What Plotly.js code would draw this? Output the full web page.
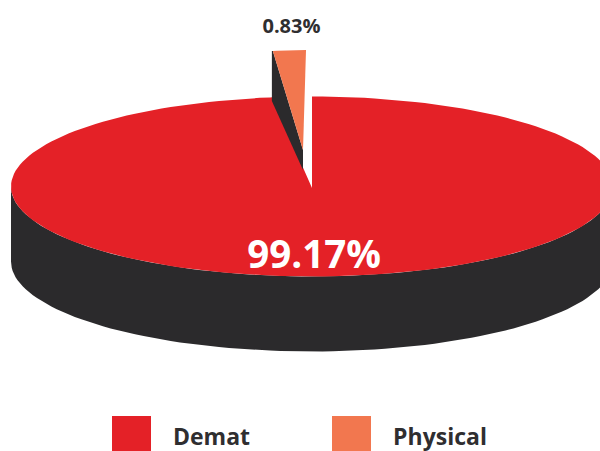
<!DOCTYPE html>
<html><head><meta charset="utf-8">
<script src="https://cdn.plot.ly/plotly-3.0.1.min.js"></script>
<style>html,body{margin:0;padding:0;background:#fff}#c{width:600px;height:451px}</style>
</head><body><div id="c"></div>
<script>
// Data
var categories = ["Demat", "Physical"];
var shares = [99.17, 0.83];
var shareLabels = ["99.17%", "0.83%"];

// Styles and page geometry (the source drawing exaggerates the small slice)
var colors = {Demat:"#E42127", Physical:"#F2774F", side:"#2B2A2C", text:"#2F2E30"};
var cx=312, cy=186.5, rx=301, ry=90, depth=75, apexY=188;
var exaggeration=2.55;

var gapDeg = shares[1]/100*360*exaggeration;
function pt(cX,cY,rX,rY,deg){var a=deg*Math.PI/180;return [cX+rX*Math.sin(a),cY-rY*Math.cos(a)];}
function poly(list,color){
  return {x:list.map(function(p){return p[0]}),y:list.map(function(p){return p[1]}),
    mode:"lines",fill:"toself",fillcolor:color,line:{width:0,color:color},hoverinfo:"skip",showlegend:false,type:"scatter"};
}
// side wall: front half of the rim, extruded downward
var wall=[],d;
for(d=90;d<=270;d+=2){wall.push(pt(cx,cy,rx,ry,d));}
for(d=270;d>=90;d-=2){var q=pt(cx,cy,rx,ry,d);wall.push([q[0],q[1]+depth]);}
// top face: everything except the gap
var topFace=[[cx,apexY]];
for(d=0;d<=360-gapDeg;d+=2){topFace.push(pt(cx,cy,rx,ry,d));}
topFace.push(pt(cx,cy,rx,ry,360-gapDeg));
topFace.push([cx,apexY]);
// exploded slice
var sX=306,sY=150,sRx=250,sRy=100;
var sliceTop=[[303,sY]];
for(d=-gapDeg;d<0;d+=1){sliceTop.push(pt(sX,sY,sRx,sRy,d));}
sliceTop.push(pt(sX,sY,sRx,sRy,0));
var sl=pt(sX,sY,sRx,sRy,-gapDeg);
var sliceSide=[[sl[0]-1,sl[1]],[sl[0]-1,sl[1]+50],[303,170],[303,sY],[sl[0],sl[1]]];

var swatchX=[131.5,351.5], swatchY=[435.5,435.5];
var traces=[
  poly(wall,colors.side),
  poly(topFace,colors.Demat),
  poly(sliceSide,colors.side),
  poly(sliceTop,colors.Physical),
  {type:"scatter",mode:"markers",x:swatchX,y:swatchY,hoverinfo:"skip",showlegend:false,cliponaxis:true,
   marker:{symbol:"square",size:39,color:[colors.Demat,colors.Physical],line:{width:0}}},
  {type:"scatter",mode:"text",x:[211.5,440],y:[439,439],text:categories,hoverinfo:"skip",showlegend:false,
   textposition:"middle center",textfont:{family:"Open Sans",size:23,weight:700,color:colors.text}},
  {type:"scatter",mode:"text",x:[314,291.5],y:[258,28],text:shareLabels,hoverinfo:"skip",showlegend:false,
   textposition:"middle center",textfont:{family:"Open Sans",size:[38.5,20],weight:700,color:["#FFFFFF",colors.text]}}
];
Plotly.newPlot("c",traces,{
  width:600,height:451,margin:{l:0,r:0,t:0,b:0},paper_bgcolor:"#fff",plot_bgcolor:"#fff",showlegend:false,
  xaxis:{range:[0,600],visible:false,fixedrange:true},yaxis:{range:[451,0],visible:false,fixedrange:true}
},{displayModeBar:false,staticPlot:true});
</script></body></html>
